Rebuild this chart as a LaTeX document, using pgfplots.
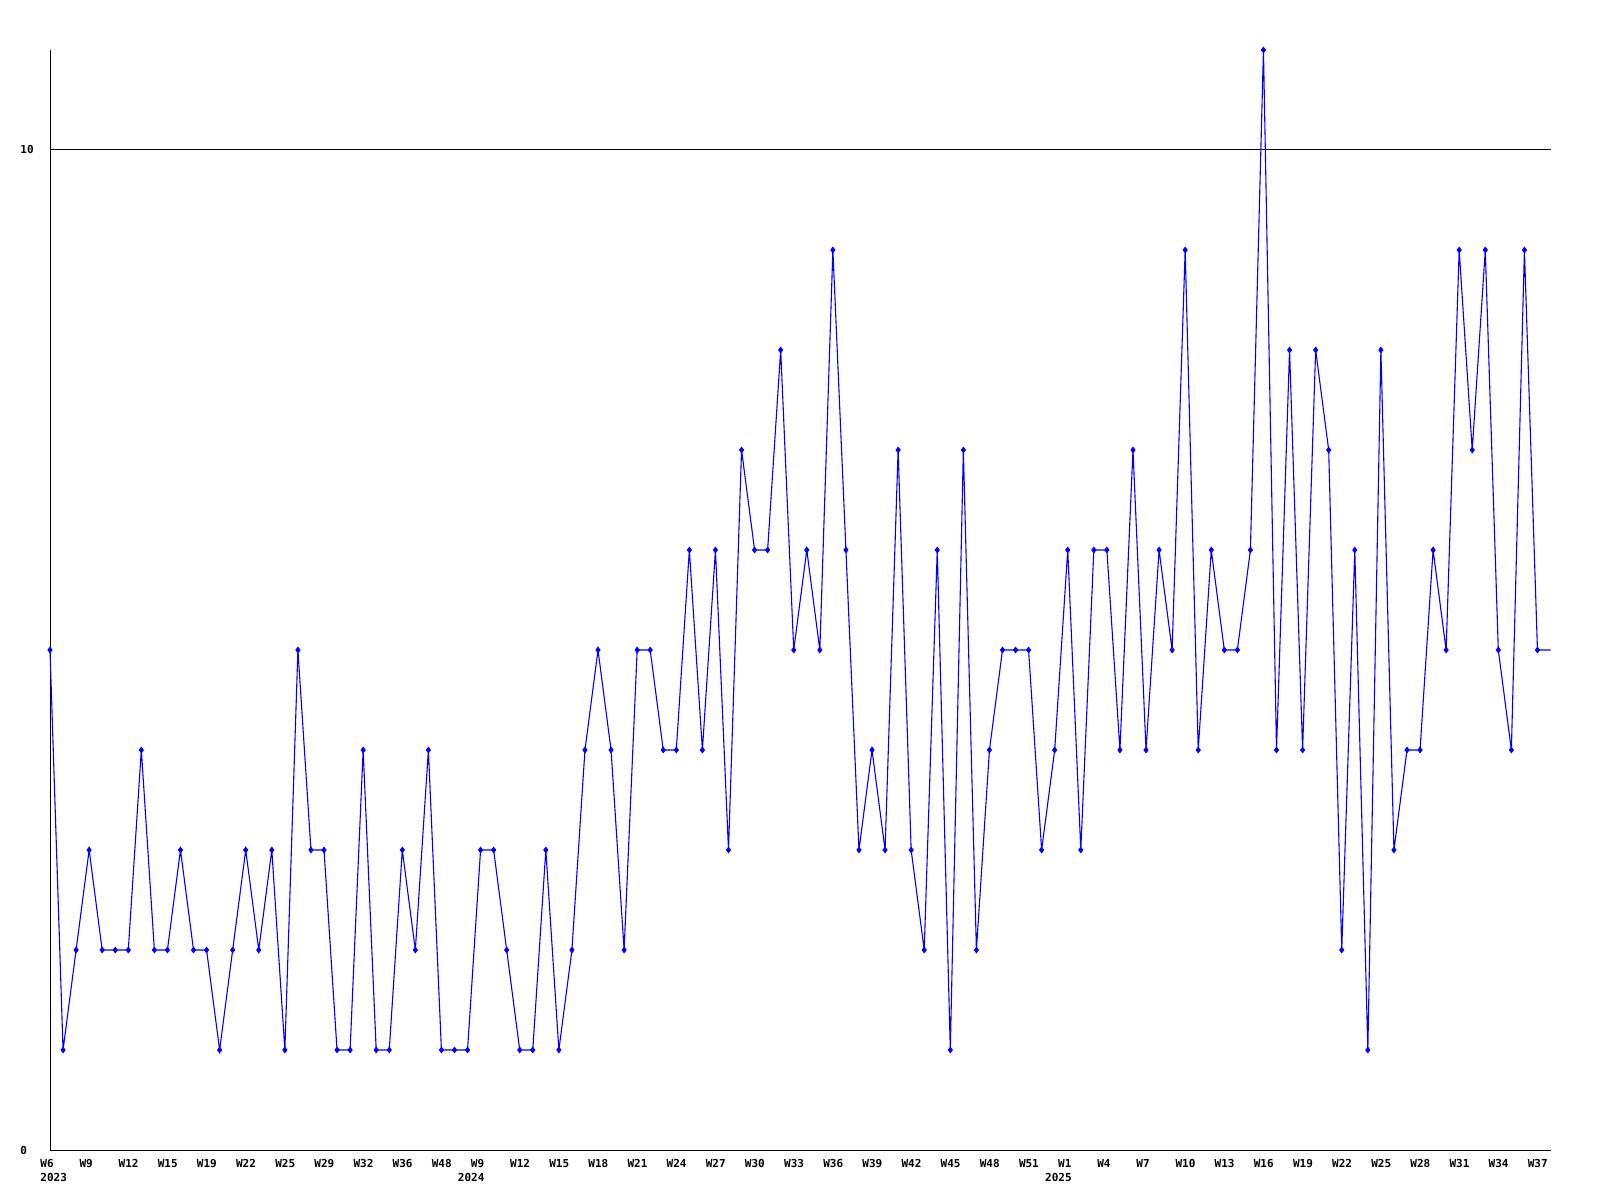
\documentclass[border=0pt]{standalone}
\usepackage{fontspec}
\usepackage{pgfplots}
\usepackage{pgfplotstable}
\pgfplotsset{compat=1.18}
\newfontfamily\chartfont{DejaVu Sans Mono}
\definecolor{lineblue}{RGB}{0,0,255}

\pgfplotstableread{
x y
0 5
1 1
2 2
3 3
4 2
5 2
6 2
7 4
8 2
9 2
10 3
11 2
12 2
13 1
14 2
15 3
16 2
17 3
18 1
19 5
20 3
21 3
22 1
23 1
24 4
25 1
26 1
27 3
28 2
29 4
30 1
31 1
32 1
33 3
34 3
35 2
36 1
37 1
38 3
39 1
40 2
41 4
42 5
43 4
44 2
45 5
46 5
47 4
48 4
49 6
50 4
51 6
52 3
53 7
54 6
55 6
56 8
57 5
58 6
59 5
60 9
61 6
62 3
63 4
64 3
65 7
66 3
67 2
68 6
69 1
70 7
71 2
72 4
73 5
74 5
75 5
76 3
77 4
78 6
79 3
80 6
81 6
82 4
83 7
84 4
85 6
86 5
87 9
88 4
89 6
90 5
91 5
92 6
93 11
94 4
95 8
96 4
97 8
98 7
99 2
100 6
101 1
102 8
103 3
104 4
105 4
106 6
107 5
108 9
109 7
110 9
111 5
112 4
113 9
114 5
115 5
}\datatable

\begin{document}
\begin{tikzpicture}
\useasboundingbox (0,0) rectangle (800pt,600pt);
\begin{axis}[
  at={(25pt,25pt)}, anchor=south west,
  scale only axis,
  width=750.25pt, height=550pt,
  xmin=0, xmax=115, ymin=0, ymax=11,
  axis lines=left,
  axis line style={-, line width=0.5pt, black},
  clip=false,
  major tick length=0pt,
  ytick={0,10},
  yticklabels={0,10},
  ymajorgrids,
  grid style={black, line width=0.5pt},
  xtick={0,3,...,114},
  xticklabels={
    {W6\\2023},W9,W12,W15,W19,W22,W25,W29,W32,W36,W48,
    {W9\\\hspace*{-6.5pt}2024},W12,W15,W18,W21,W24,W27,W30,W33,W36,W39,W42,W45,W48,W51,
    {W1\\\hspace*{-6.5pt}2025},W4,W7,W10,W13,W16,W19,W22,W25,W28,W31,W34,W37},
  xticklabel style={anchor=north west, inner sep=0pt, xshift=-5pt, yshift=-4.5pt,
    align=left, font=\chartfont\bfseries\fontsize{5.5}{7.2}\selectfont},
  yticklabel style={anchor=west, inner sep=0pt, xshift=-15pt,
    font=\chartfont\bfseries\fontsize{5.5}{7.2}\selectfont},
  /pgf/number format/assume math mode=true,
]
\addplot[lineblue, line width=0.55pt, no marks] table[x=x,y=y] {\datatable};
\addplot[lineblue, only marks, mark=diamond*, mark size=1.4pt,
  restrict x to domain=0:114] table[x=x,y=y] {\datatable};
\end{axis}
\end{tikzpicture}
\end{document}
